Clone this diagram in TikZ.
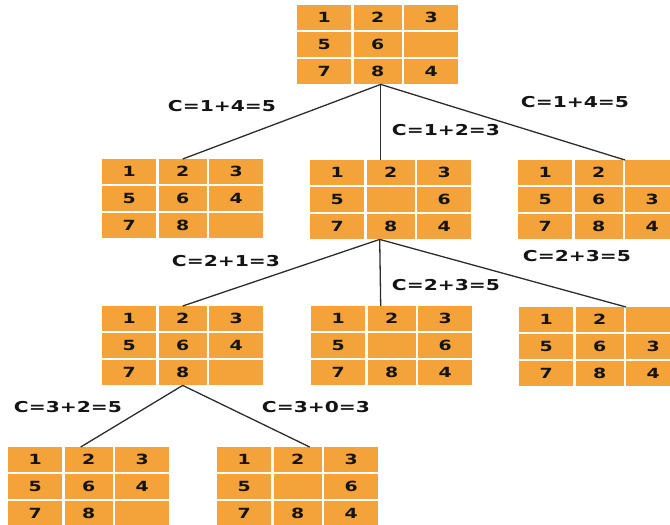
\documentclass[tikz,border=0pt]{standalone}
\usepackage{fontspec}
\setmainfont{DejaVu Sans}
\usepackage{graphicx}
\definecolor{tileorange}{RGB}{243,163,58}
\definecolor{inkdark}{RGB}{20,20,20}
\tikzset{
  tile/.style={fill=tileorange, draw=none, minimum height=25pt, inner sep=0pt,
    anchor=north west, text=inkdark, font=\bfseries\fontsize{14}{14}\selectfont},
  cost/.style={font=\bfseries\fontsize{15}{15}\selectfont, inner sep=0pt, text=inkdark},
  edge/.style={draw=inkdark!90, line width=1.3pt}
}
\newcommand\pgrid[4]{%
  \foreach \v [count=\i from 0] in {#4} {%
    \pgfmathtruncatemacro\r{div(\i,3)}%
    \pgfmathtruncatemacro\c{mod(\i,3)}%
    \pgfmathsetmacro\cx{{0,56.5,107}[\c]}%
    \pgfmathsetmacro\cw{{54,48,54}[\c]}%
    \node[tile, minimum width=\cw pt] (#1-\r\c) at (#2+\cx, #3+\r*27) {\scalebox{1.35}[1]{\v}};
  }%
}
\begin{document}
\begin{tikzpicture}[x=1pt, y=-1pt]
\useasboundingbox (0,0) rectangle (670,525);
\clip (0,0) rectangle (670,525);
% grids
\pgrid{A}{297}{5}{1,2,3,5,6,{},7,8,4}
\pgrid{B}{102}{159}{1,2,3,5,6,4,7,8,{}}
\pgrid{C}{310}{160}{1,2,3,5,{},6,7,8,4}
\pgrid{D}{518}{160}{1,2,{},5,6,3,7,8,4}
\pgrid{E}{102}{306}{1,2,3,5,6,4,7,8,{}}
\pgrid{F}{311}{306}{1,2,3,5,{},6,7,8,4}
\pgrid{G}{519}{307}{1,2,{},5,6,3,7,8,4}
\pgrid{H}{8}{447}{1,2,3,5,6,4,7,8,{}}
\pgrid{I}{217}{447}{1,2,3,5,{},6,7,8,4}
% connectors
\draw[edge] ([xshift=3pt]A-21.south) -- (B-01.north);
\draw[edge] ([xshift=3pt]A-21.south) -- ([xshift=-10pt]C-01.north);
\draw[edge] ([xshift=3pt]A-21.south) -- (D-02.north west);
\draw[edge] ([xshift=-11pt]C-21.south) -- (E-01.north);
\draw[edge] ([xshift=-11pt]C-21.south) -- ([xshift=-11pt]F-01.north);
\draw[edge] ([xshift=-11pt]C-21.south) -- (G-02.north west);
\draw[edge] (E-21.south) -- ([xshift=-8pt]H-01.north);
\draw[edge] (E-21.south) -- ([xshift=12pt]I-01.north);
% costs
\node[cost] (c1) at (222,106) {\scalebox{1.35}[1]{C=1+4=5}};
\node[cost] (c2) at (446,130) {\scalebox{1.35}[1]{C=1+2=3}};
\node[cost] (c3) at (575,102) {\scalebox{1.35}[1]{C=1+4=5}};
\node[cost] (c4) at (226,261) {\scalebox{1.35}[1]{C=2+1=3}};
\node[cost] (c5) at (446,285) {\scalebox{1.35}[1]{C=2+3=5}};
\node[cost] (c6) at (577,256) {\scalebox{1.35}[1]{C=2+3=5}};
\node[cost] (c7) at (68,407) {\scalebox{1.35}[1]{C=3+2=5}};
\node[cost] (c8) at (316,407) {\scalebox{1.35}[1]{C=3+0=3}};
\end{tikzpicture}
\end{document}
